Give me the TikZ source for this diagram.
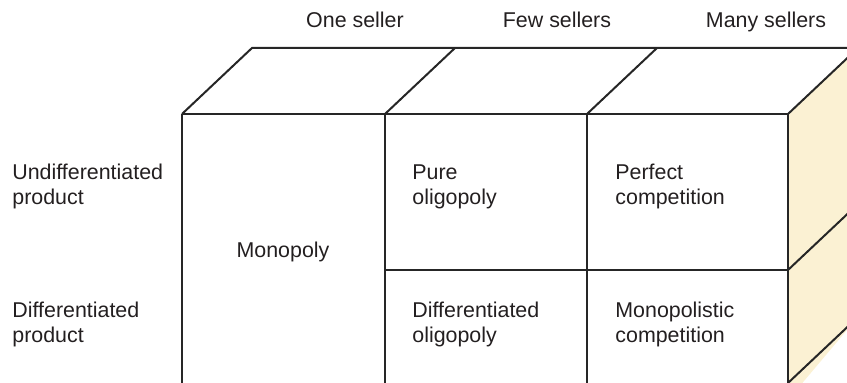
\documentclass[tikz,border=0pt]{standalone}
\usepackage{fontspec}
\setmainfont{Liberation Sans}
\usepackage{xcolor}
\usepackage{tikz}
\usetikzlibrary{positioning}
\definecolor{sidefill}{HTML}{FBF1D3}
\definecolor{inktext}{HTML}{231F20}

\begin{document}
\begin{tikzpicture}[x=0.5pt,y=-0.5pt,
    edge/.style={line width=1pt,black!85},
    lbl/.style={inner sep=0pt,anchor=base west,align=left,text=inktext,
        font=\fontsize{10.7}{12.5}\selectfont},
    head/.style={lbl,anchor=base}]
    \useasboundingbox (0,0) rectangle (847,383);
    \clip (0,0) rectangle (847,383);
    % side face
    \fill[sidefill] (788,114) -- (858,48) -- (858,317) -- (788,400) -- cycle;
    \draw[edge] (788,114) -- (858,48);
    \draw[edge] (788,270) -- (858,204);
    \draw[edge] (788,383) -- (858,317);
    % top face
    \draw[edge] (182,114) -- (252,48) -- (858,48);
    \draw[edge] (385,114) -- (455,48);
    \draw[edge] (587,114) -- (657,48);
    % front face
    \draw[edge] (182,114) -- (788,114);
    \draw[edge] (385,270) -- (788,270);
    \draw[edge] (182,114) -- (182,400);
    \draw[edge] (385,114) -- (385,400);
    \draw[edge] (587,114) -- (587,400);
    \draw[edge] (788,114) -- (788,400);
    % column heads
    \node[head] (onesel) at (355,28) {One seller};
    \node[head] (fewsel) at (557,28) {Few sellers};
    \node[head] (manysel) at (766,28) {Many sellers};
    % row heads (base = last line)
    \node[lbl] (undiff) at (12,205) {Undifferentiated\\product};
    \node[lbl] (diff) at (12,343) {Differentiated\\product};
    % cells
    \node[head] (monop) at (283,258) {Monopoly};
    \node[lbl] (pureolig) at (412,205) {Pure\\oligopoly};
    \node[lbl] (perfcomp) at (615,205) {Perfect\\competition};
    \node[lbl] (difolig) at (412,343) {Differentiated\\oligopoly};
    \node[lbl] (monocomp) at (615,343) {Monopolistic\\competition};
\end{tikzpicture}
\end{document}
